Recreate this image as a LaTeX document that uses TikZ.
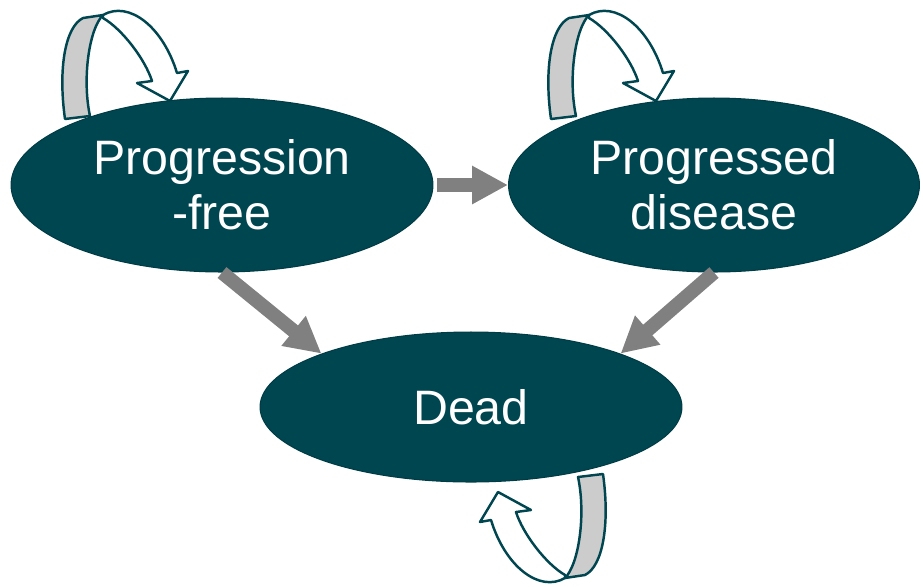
\documentclass[tikz,border=0pt]{standalone}
\usepackage{fontspec}
\setmainfont{Liberation Sans}
\usetikzlibrary{shapes.geometric,arrows.meta}
\definecolor{statefill}{HTML}{004650}
\definecolor{stateline}{HTML}{003C45}
\definecolor{flowgrey}{HTML}{808080}
\definecolor{bandgrey}{HTML}{CCCCCC}
\tikzset{
  selfloop/.pic={
    % side of the ribbon
    \draw[loopline, fill=bandgrey] (-12,0) .. controls (-19,-50) and (-12,-92) .. (6,-101)
      -- (26,-104) .. controls (12,-90) and (5,-40) .. (13,-3) -- cycle;
    % front of the ribbon with its head
    \draw[loopline, fill=white] (26,-104) .. controls (52,-119) and (86,-92) .. (100,-46)
      -- (111,-48) -- (93,-18) -- (60,-36) -- (75,-38)
      .. controls (68,-60) and (45,-90) .. (26,-101) -- cycle;
  }
}
\begin{document}
\begin{tikzpicture}[x=0.02cm, y=-0.02cm,
    state/.style={ellipse, draw=stateline, line width=0.6pt, fill=statefill,
      text=white, inner sep=0pt, align=center, font=\fontsize{27.5}{31.5}\selectfont},
    flow/.style={draw=flowgrey, line width=0.28cm,
      -{Triangle[width=0.72cm,length=0.72cm]}},
    loopline/.style={draw=statefill, line width=1.4pt, line join=round}]
  \useasboundingbox (0,0) rectangle (923,586);
  \pic at (77,119) {selfloop};
  \pic at (563,119) {selfloop};
  \pic[rotate=180] at (591,474) {selfloop};
  \node[state, minimum width=8.44cm, minimum height=3.48cm] (pf) at (222,185) {Progression\\-free};
  \node[state, minimum width=8.22cm, minimum height=3.48cm] (pd) at (714,185) {Progressed\\disease};
  \node[state, minimum width=8.44cm, minimum height=3.0cm] (dead) at (471,407) {Dead};
  \draw[flow, shorten <=2pt] (pf.east) -- (pd.west);
  \draw[flow] (pf.south) -- (dead.north west);
  \draw[flow] (pd.south) -- (dead.north east);
\end{tikzpicture}
\end{document}
